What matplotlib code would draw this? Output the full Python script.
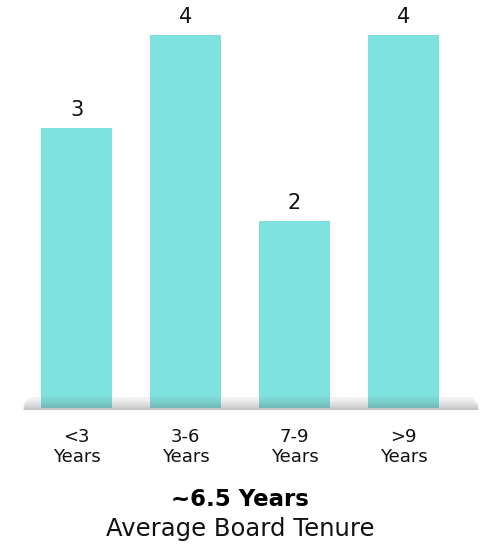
import matplotlib
matplotlib.use("Agg")

import matplotlib.pyplot as plt
import numpy as np

# ── Data ──────────────────────────────────────────────────────────────────────
categories = ["<3\nYears", "3-6\nYears", "7-9\nYears", ">9\nYears"]
counts     = [3, 4, 2, 4]
headline   = "~6.5 Years"
subtitle   = "Average Board Tenure"

BAR_COLOR = "#7fe1dd"
FONT      = ["DejaVu Sans"]

W, H = 480, 546
fig = plt.figure(figsize=(W / 100, H / 100), dpi=100)

# main axes: baseline at y=408 px, bars spaced 109 px apart
base_px = 408
ax = fig.add_axes([0, (H - base_px) / H, 1, base_px / H])
x = np.arange(len(counts))
ax.bar(x, counts, width=0.65, color=BAR_COLOR, zorder=2)
ax.set_xlim(-76.5 / 109, (W - 76.5) / 109)
ax.set_ylim(0, base_px / 93.3)
ax.axis("off")

for xi, v in zip(x, counts):
    ax.text(xi, v + 0.13, str(v), ha="center", va="baseline",
            fontsize=15, family=FONT, color="#111111")

# shadow strip under the bars
sx0, sx1, sy0, sy1 = 23, 479, 397, 410
sax = fig.add_axes([sx0 / W, (H - sy1) / H, (sx1 - sx0) / W, (sy1 - sy0) / H])
nx, ny = 600, 40
xx = np.linspace(0, 1, nx)
yy = np.linspace(0, 1, ny)[:, None]          # 0 = top, 1 = bottom
edge = np.clip(np.minimum(xx, 1 - xx) * (sx1 - sx0) / (sy1 - sy0), 0, 1)
top = np.clip(1 - np.sqrt(edge * (2 - edge)), 0, 1)
mask = (yy >= top[None, :]).astype(float)
alpha = (0.06 + 0.32 * yy ** 1.6) * mask
img = np.zeros((ny, nx, 4))
img[..., :3] = 0.35
img[..., 3] = alpha
sax.imshow(img, aspect="auto", extent=(0, 1, 1, 0), interpolation="bilinear")
sax.set_xlim(0, 1)
sax.set_ylim(1, 0)
sax.axis("off")

# category labels
for xi, lab in zip(x, categories):
    px = 76.5 + 109 * xi
    fig.text(px / W, 1 - 447 / H, lab, ha="center", va="center",
             fontsize=13, family=FONT, color="#111111", linespacing=1.1)

fig.text(0.5, 1 - 499 / H, headline, ha="center", va="center",
         fontsize=16.5, fontweight="bold", family=FONT, color="#000000")
fig.text(0.5, 1 - 529 / H, subtitle, ha="center", va="center",
         fontsize=17.5, family=FONT, color="#111111")

fig.savefig("out.png", dpi=100)
plt.close(fig)
